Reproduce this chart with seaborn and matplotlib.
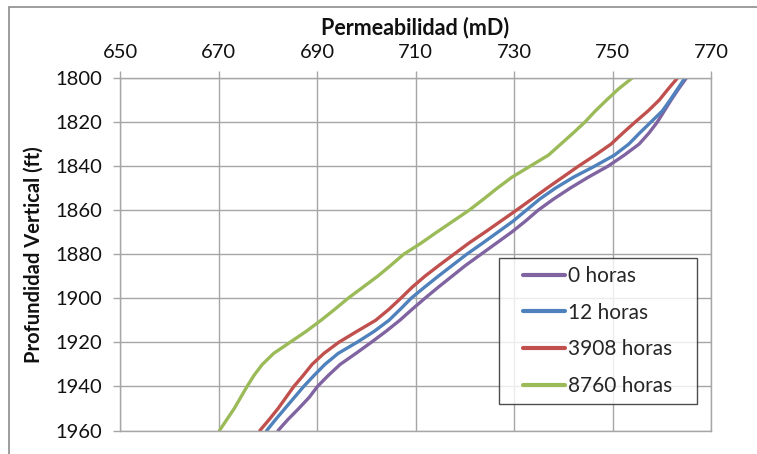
import matplotlib
matplotlib.use("Agg")
import matplotlib.pyplot as plt
from matplotlib.patches import Rectangle
from matplotlib.legend_handler import HandlerLine2D
import seaborn as sns
import pandas as pd

# Depth (ft) and permeability (mD) profiles at each time
profundidad = [1800, 1805, 1810, 1815, 1820, 1825, 1830, 1835, 1840, 1845,
               1850, 1855, 1860, 1865, 1870, 1875, 1880, 1885, 1890, 1895,
               1900, 1905, 1910, 1915, 1920, 1925, 1930, 1935, 1940, 1945,
               1950, 1955, 1960]
perm_0h = [765.0, 763.4, 761.9, 760.5, 759.1, 757.4, 755.4, 752.4, 749.1,
           745.1, 741.4, 738.0, 734.9, 732.3, 729.5, 726.4, 723.3, 720.2,
           717.4, 714.6, 711.9, 709.3, 706.8, 704.0, 701.0, 697.9, 694.7,
           692.3, 690.1, 688.4, 686.3, 684.1, 682.1]
perm_12h = [764.7, 763.2, 761.7, 760.1, 757.8, 755.5, 753.3, 750.4, 746.4,
            742.1, 738.4, 735.2, 732.5, 729.8, 726.7, 723.6, 720.4, 717.5,
            714.6, 711.8, 709.1, 706.9, 704.6, 701.6, 698.1, 694.3, 691.6,
            689.4, 687.3, 685.4, 683.5, 681.6, 679.8]
perm_3908h = [763.2, 761.3, 759.5, 757.2, 754.6, 752.1, 749.7, 746.5, 743.1,
              739.9, 736.7, 733.6, 730.5, 727.3, 724.1, 720.8, 717.8, 714.8,
              711.9, 709.3, 707.0, 704.6, 701.9, 698.1, 694.4, 691.4, 689.0,
              687.2, 685.3, 683.7, 682.1, 680.3, 678.4]
perm_8760h = [754.0, 751.2, 748.8, 746.5, 744.4, 742.0, 739.5, 737.0, 733.3,
              729.6, 726.6, 723.8, 720.9, 717.6, 714.3, 711.1, 707.6, 705.0,
              702.3, 699.3, 696.3, 693.6, 690.8, 687.8, 684.5, 681.2, 678.9,
              677.2, 675.8, 674.5, 673.2, 671.7, 670.2]

series_labels = ["0 horas", "12 horas", "3908 horas", "8760 horas"]
series_values = [perm_0h, perm_12h, perm_3908h, perm_8760h]
colores = ["#8064A2", "#4F81BD", "#C0504D", "#9BBB59"]

x_ticks = [650, 670, 690, 710, 730, 750, 770]
y_ticks = [1800, 1820, 1840, 1860, 1880, 1900, 1920, 1940, 1960]

rows = []
for label, vals in zip(series_labels, series_values):
    for d, k in zip(profundidad, vals):
        rows.append({"Permeabilidad": k, "Profundidad": d, "Serie": label})
df = pd.DataFrame(rows)


class IndentedLine(HandlerLine2D):
    """Legend line drawn with some blank space on its left."""
    indent = 0.77

    def create_artists(self, legend, orig_handle, xdescent, ydescent,
                       width, height, fontsize, trans):
        shift = self.indent * fontsize
        return super().create_artists(legend, orig_handle, xdescent - shift,
                                      ydescent, width - shift, height,
                                      fontsize, trans)


sns.set_theme(style="white")
plt.rcParams["font.family"] = ["Lato", "DejaVu Sans"]

fig = plt.figure(figsize=(7.57, 4.54), dpi=100)
ax = fig.add_axes([120 / 757, 1 - 430.5 / 454, 591 / 757, 352.5 / 454])

sns.lineplot(data=df, x="Permeabilidad", y="Profundidad", hue="Serie",
             hue_order=series_labels, palette=colores, sort=False,
             estimator=None, orient="y", linewidth=2.4, ax=ax)

ax.set_xlim(650, 770)
ax.set_ylim(1960, 1800)
ax.set_xticks(x_ticks)
ax.set_yticks(y_ticks)
ax.xaxis.tick_top()
ax.xaxis.set_label_position("top")
ax.grid(True, color="#A6A6A6", linewidth=1.0)
ax.set_axisbelow(True)
for s in ax.spines.values():
    s.set_color("#A6A6A6")
    s.set_linewidth(1.0)

ax.tick_params(axis="both", which="major", length=5, width=1.0,
               color="#A6A6A6", labelsize=14.5, labelcolor="#111111")
ax.tick_params(axis="y", pad=8, left=True)
ax.tick_params(axis="x", pad=7, top=True, bottom=False)

ax.set_xlabel("Permeabilidad (mD)", fontsize=15.5, fontweight="bold",
              color="#111111", labelpad=7)
ax.set_ylabel("Profundidad Vertical (ft)", fontsize=14.5, fontweight="bold",
              color="#111111", labelpad=8)

handles, labels = ax.get_legend_handles_labels()
leg = ax.legend(handles, labels, loc="lower left",
                bbox_to_anchor=(0.6413, 0.0752, 0.335, 0.0), mode="expand",
                borderaxespad=0, fontsize=15, frameon=True, fancybox=False,
                edgecolor="#222222", handlelength=2.79, handletextpad=0.15,
                labelspacing=0.8, borderpad=0.38,
                handler_map={h: IndentedLine() for h in handles})
leg.get_frame().set_linewidth(1.0)
for line in leg.get_lines():
    line.set_linewidth(3.0)

# Chart area border
fig.patches.append(Rectangle((9 / 757, -0.05), 1.1, 1 - 7 / 454 + 0.05,
                             transform=fig.transFigure, fill=False,
                             edgecolor="#8C8C8C", linewidth=1.2))

fig.savefig("out.png", dpi=100)
